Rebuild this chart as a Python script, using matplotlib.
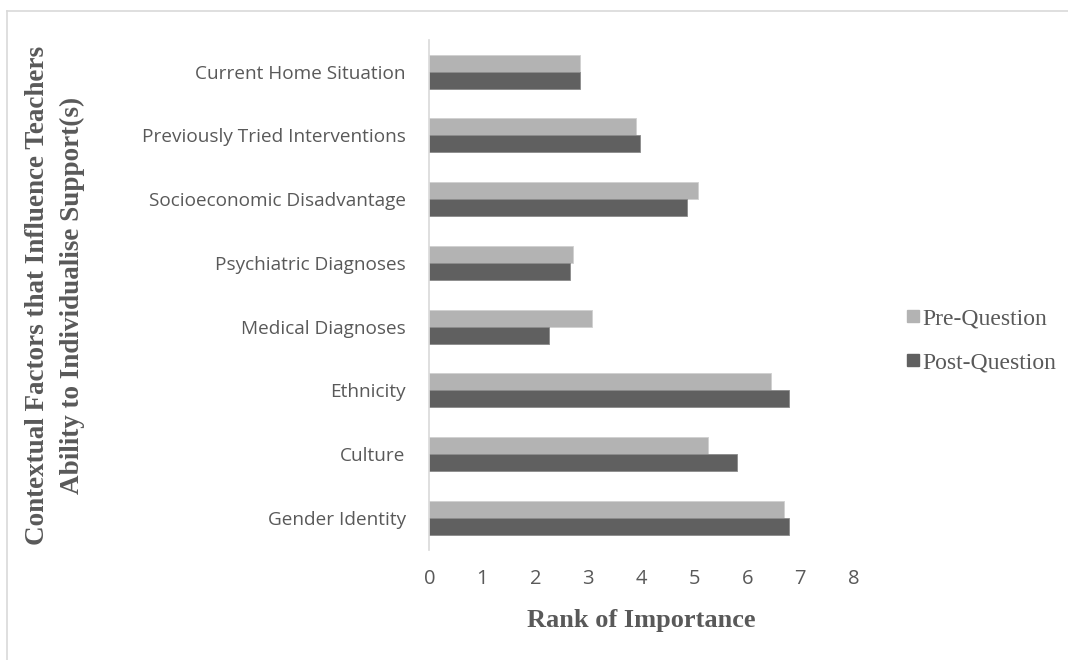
import numpy as np
import matplotlib
matplotlib.use("Agg")
import matplotlib.pyplot as plt
from matplotlib.lines import Line2D

# factors listed top to bottom
factors = ['Current Home Situation', 'Previously Tried Interventions',
           'Socioeconomic Disadvantage', 'Psychiatric Diagnoses',
           'Medical Diagnoses', 'Ethnicity', 'Culture', 'Gender Identity']
pre_question = [2.84, 3.90, 5.07, 2.71, 3.07, 6.45, 5.25, 6.70]
post_question = [2.85, 3.98, 4.86, 2.66, 2.26, 6.78, 5.81, 6.78]
x_ticks = [0, 1, 2, 3, 4, 5, 6, 7, 8]

txt = '#595959'
pre_col = '#b3b3b3'
post_col = '#606060'

fig = plt.figure(figsize=(10.68, 6.6), dpi=100)
ax = fig.add_axes([0.402, 0.167, 0.397, 0.7727])

y = np.arange(len(factors))
h = 0.267
ax.barh(y - h / 2, pre_question, height=h, color=pre_col, edgecolor='#d0d0d0', linewidth=0.6, label='Pre-Question')
ax.barh(y + h / 2, post_question, height=h, color=post_col, edgecolor='#8a8a8a', linewidth=0.6, label='Post-Question')

ax.set_ylim(len(factors) - 0.5, -0.5)
ax.set_xlim(0, 8)
ax.set_yticks(y)
ax.set_yticklabels(factors, fontfamily='Open Sans', fontsize=13.7, color=txt)
ax.set_xticks(x_ticks)
ax.set_xticklabels([str(v) for v in x_ticks], fontfamily='Open Sans', fontsize=14.5, color=txt)
ax.tick_params(axis='y', length=0, pad=17)
ax.tick_params(axis='x', length=0, pad=14)

for s in ['top', 'right', 'bottom']:
    ax.spines[s].set_visible(False)
ax.spines['left'].set_color('#d9d9d9')
ax.spines['left'].set_linewidth(1.2)

ax.set_xlabel('Rank of Importance', fontfamily='Liberation Serif', fontweight='bold',
              fontsize=19, color=txt, labelpad=14)

fig.text(0.0515, 0.553, 'Contextual Factors that Influence Teachers\nAbility to Individualise Support(s)',
         rotation=90, ha='center', va='center', multialignment='center',
         fontfamily='Liberation Serif', fontweight='bold', fontsize=19.5, color=txt, linespacing=1.5)

handles = [Line2D([], [], marker='s', linestyle='none', markersize=8.5, color=pre_col),
           Line2D([], [], marker='s', linestyle='none', markersize=8.5, color=post_col)]
fig.legend(handles, ['Pre-Question', 'Post-Question'], loc='center left',
           bbox_to_anchor=(0.826, 0.484), frameon=False, handletextpad=0.0,
           labelspacing=0.95, prop={'family': 'Liberation Serif', 'size': 17},
           labelcolor=txt, handlelength=0.8)

# outer chart border (left and top edges)
fig.add_artist(Line2D([0.007, 0.007], [0, 0.983], transform=fig.transFigure, color='#d9d9d9', lw=1.2))
fig.add_artist(Line2D([0.007, 1], [0.983, 0.983], transform=fig.transFigure, color='#d9d9d9', lw=1.2))

fig.savefig('out.png', dpi=100, facecolor='white')
